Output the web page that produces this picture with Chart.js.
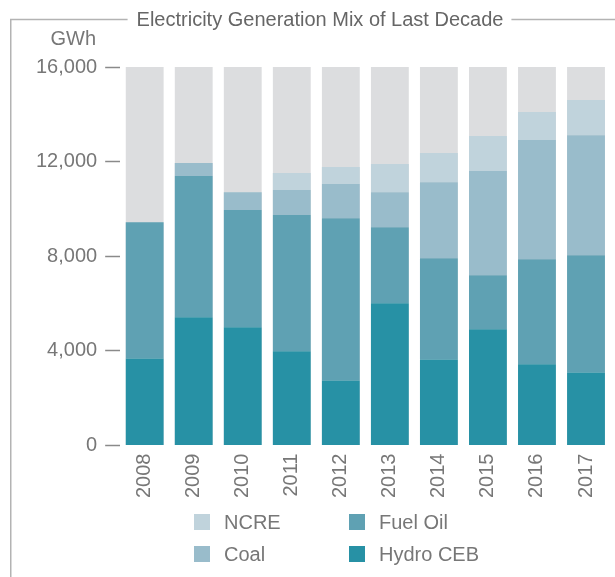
<!DOCTYPE html>
<html>
<head>
<meta charset="utf-8">
<title>Electricity Generation Mix of Last Decade</title>
<script src="https://cdn.jsdelivr.net/npm/chart.js@4.4.1/dist/chart.umd.min.js"></script>
<style>
  html, body { margin: 0; padding: 0; background: #fff; overflow: hidden; }
  #outer { position: relative; width: 615px; height: 577px; overflow: hidden; }
  #wrap { position: absolute; left: 0; top: 0; width: 618px; height: 577px; }
  #legend {
    position: absolute; left: 0; top: 0; width: 615px;
    font-family: "Liberation Sans", Arial, sans-serif; font-size: 20px; color: #777;
  }
  .lg-item { position: absolute; height: 16px; line-height: 16px; white-space: nowrap; }
  .lg-box { display: inline-block; width: 16px; height: 16px; vertical-align: top; margin-right: 14px; }
</style>
</head>
<body>
<div id="outer">
  <div id="wrap"><canvas id="mix-chart"></canvas></div>
  <div id="legend"></div>
</div>
<script>
  // Values, GWh
  const years = ['2008', '2009', '2010', '2011', '2012', '2013', '2014', '2015', '2016', '2017'];
  const hydroCEB = [3680, 5420, 5000, 3980, 2750, 6010, 3640, 4910, 3430, 3090];
  const fuelOil = [5760, 5970, 4950, 5760, 6860, 3220, 4280, 2290, 4440, 4950];
  const coal = [0, 550, 760, 1060, 1440, 1480, 3210, 4400, 5040, 5080];
  const ncre = [0, 0, 0, 720, 720, 1190, 1230, 1480, 1190, 1480];
  // grey backdrop behind every bar, full axis height
  const backdrop = [16000, 16000, 16000, 16000, 16000, 16000, 16000, 16000, 16000, 16000];
  const yTicks = [0, 4000, 8000, 12000, 16000];

  const TEXT = '#777777';
  const FONT = '"Liberation Sans", Arial, sans-serif';

  const series = [
    { label: 'Hydro CEB', data: hydroCEB, color: '#2791a5' },
    { label: 'Fuel Oil', data: fuelOil, color: '#5fa1b3' },
    { label: 'Coal', data: coal, color: '#99bccb' },
    { label: 'NCRE', data: ncre, color: '#c0d3dc' },
  ];

  const datasets = series.map(function (s) {
    return {
      label: s.label,
      data: s.data,
      backgroundColor: s.color,
      stack: 'mix',
      order: 1,
      barPercentage: 0.772,
      categoryPercentage: 1,
    };
  });
  datasets.push({
    label: 'backdrop',
    data: backdrop,
    backgroundColor: '#dcdddf',
    stack: 'bg',
    grouped: false,
    order: 5,
    barPercentage: 0.772,
    categoryPercentage: 1,
  });

  // frame, title and unit label
  const framePlugin = {
    id: 'frame',
    beforeDraw: function (chart) {
      const ctx = chart.ctx;
      const title = 'Electricity Generation Mix of Last Decade';
      ctx.save();
      ctx.font = '20px ' + FONT;
      const tw = ctx.measureText(title).width;
      const cx = 320;
      const ly = 19.5;
      ctx.strokeStyle = '#b3b3b3';
      ctx.lineWidth = 1.5;
      ctx.beginPath();
      ctx.moveTo(10.75, chart.height);
      ctx.lineTo(10.75, ly);
      ctx.lineTo(cx - tw / 2 - 9, ly);
      ctx.moveTo(cx + tw / 2 + 8, ly);
      ctx.lineTo(chart.width, ly);
      ctx.stroke();

      ctx.fillStyle = '#666';
      ctx.textAlign = 'center';
      ctx.textBaseline = 'middle';
      ctx.fillText(title, cx, ly + 1);

      ctx.fillStyle = TEXT;
      ctx.textAlign = 'right';
      ctx.fillText('GWh', 96, 39);
      ctx.restore();
    },
  };

  const chart = new Chart(document.getElementById('mix-chart'), {
    type: 'bar',
    data: { labels: years, datasets: datasets },
    plugins: [framePlugin],
    options: {
      responsive: true,
      maintainAspectRatio: false,
      animation: false,
      layout: { padding: { left: 28, right: 0, top: 67, bottom: 71 } },
      plugins: {
        legend: { display: false },
        tooltip: { enabled: false },
      },
      scales: {
        x: {
          stacked: true,
          grid: { display: false, drawTicks: false },
          border: { display: false },
          ticks: {
            color: TEXT,
            font: { family: FONT, size: 20 },
            minRotation: 90,
            maxRotation: 90,
            padding: 8,
          },
        },
        y: {
          stacked: true,
          min: 0,
          max: 16000,
          afterBuildTicks: function (scale) {
            scale.ticks = yTicks.map(function (v) { return { value: v }; });
          },
          grid: {
            drawOnChartArea: false,
            drawTicks: true,
            tickLength: 15,
            tickColor: '#8a8a8a',
            tickWidth: 1.5,
          },
          border: { display: false },
          ticks: {
            color: TEXT,
            font: { family: FONT, size: 20 },
            padding: 8,
            callback: function (v) { return v.toLocaleString('en-US'); },
          },
        },
      },
    },
  });

  // two column legend, NCRE / Coal on the left, Fuel Oil / Hydro CEB on the right
  const legendCols = [['NCRE', 'Coal'], ['Fuel Oil', 'Hydro CEB']];
  const colX = [194, 349];
  const rowY = [514, 546];
  const legend = document.getElementById('legend');
  legendCols.forEach(function (col, ci) {
    col.forEach(function (name, ri) {
      const s = series.find(function (d) { return d.label === name; });
      const item = document.createElement('div');
      item.className = 'lg-item';
      item.style.left = colX[ci] + 'px';
      item.style.top = rowY[ri] + 'px';
      item.innerHTML = '<span class="lg-box" style="background:' + s.color + '"></span>' + name;
      legend.appendChild(item);
    });
  });
</script>
</body>
</html>
